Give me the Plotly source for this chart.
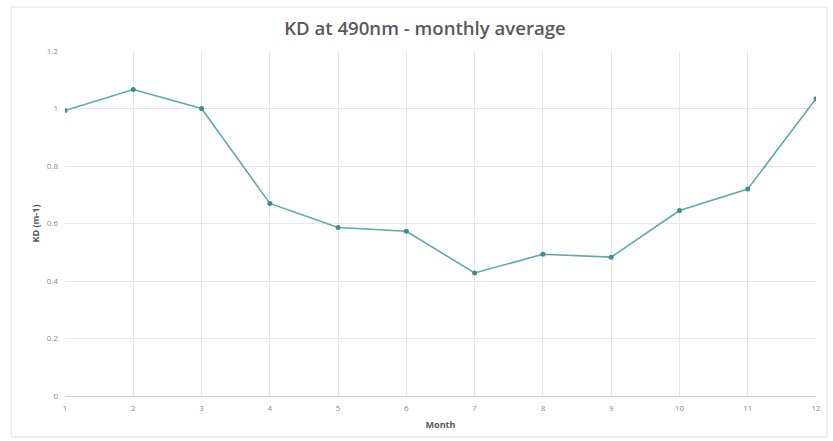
import plotly.graph_objects as go

months = [1, 2, 3, 4, 5, 6, 7, 8, 9, 10, 11, 12]
kd_values = [0.993, 1.066, 1.0, 0.670, 0.586, 0.573, 0.428, 0.493, 0.483, 0.645, 0.720, 1.034]
y_ticks = [0, 0.2, 0.4, 0.6, 0.8, 1, 1.2]
y_tick_labels = ["0", "0.2", "0.4", "0.6", "0.8", "1", "1.2"]

W, H = 833, 441
L, R, T, B = 65, 13, 51, 44
pw, ph = W - L - R, H - T - B

fig = go.Figure()
fig.add_trace(go.Scatter(
    x=months, y=kd_values, mode="lines+markers",
    line=dict(color="#5fa9aa", width=1.6),
    marker=dict(color="#3f8d8f", size=5),
    showlegend=False, hoverinfo="x+y",
))

def px(x):
    return (x - L) / pw

def py(y):
    return (H - B - y) / ph

fig.add_shape(type="rect", xref="paper", yref="paper",
              x0=px(11), x1=px(831), y0=py(438), y1=py(7),
              line=dict(color="#e2e2e2", width=1), layer="below")

fig.update_layout(
    width=W, height=H,
    margin=dict(l=L, r=R, t=T, b=B),
    paper_bgcolor="white", plot_bgcolor="white",
    font=dict(family="Open Sans, Lato, sans-serif", color="#8a8a8a"),
    title=dict(text="KD at 490nm - monthly average", xref="container", x=425 / W, xanchor="center",
               y=1 - 28 / H, yanchor="middle",
               font=dict(size=18.6, color="#595959", family="Open Sans, sans-serif", weight=600)),
    xaxis=dict(range=[1, 12], tickvals=months, ticktext=[str(m) for m in months],
               showgrid=True, gridcolor="#e6e6e6", gridwidth=1,
               zeroline=False, showline=True, linecolor="#d0d0d0", linewidth=1,
               tickfont=dict(size=8, color="#8a8a8a"),
               ticklabelstandoff=4,
               title=dict(text="<b>Month</b>", font=dict(size=9, color="#595959"), standoff=10),
               fixedrange=True),
    yaxis=dict(range=[0, 1.2], tickvals=y_ticks, ticktext=y_tick_labels,
               showgrid=True, gridcolor="#e6e6e6", gridwidth=1,
               zeroline=False, showline=False,
               tickfont=dict(size=8, color="#8a8a8a"),
               title=dict(text="<b>KD (m-1)</b>", font=dict(size=9, color="#595959"), standoff=5),
               ticklabelstandoff=6,
               fixedrange=True),
)

fig.write_html("out.html", config={"displayModeBar": False},
               post_script="document.body.style.margin='0';document.body.style.overflow='hidden';")
